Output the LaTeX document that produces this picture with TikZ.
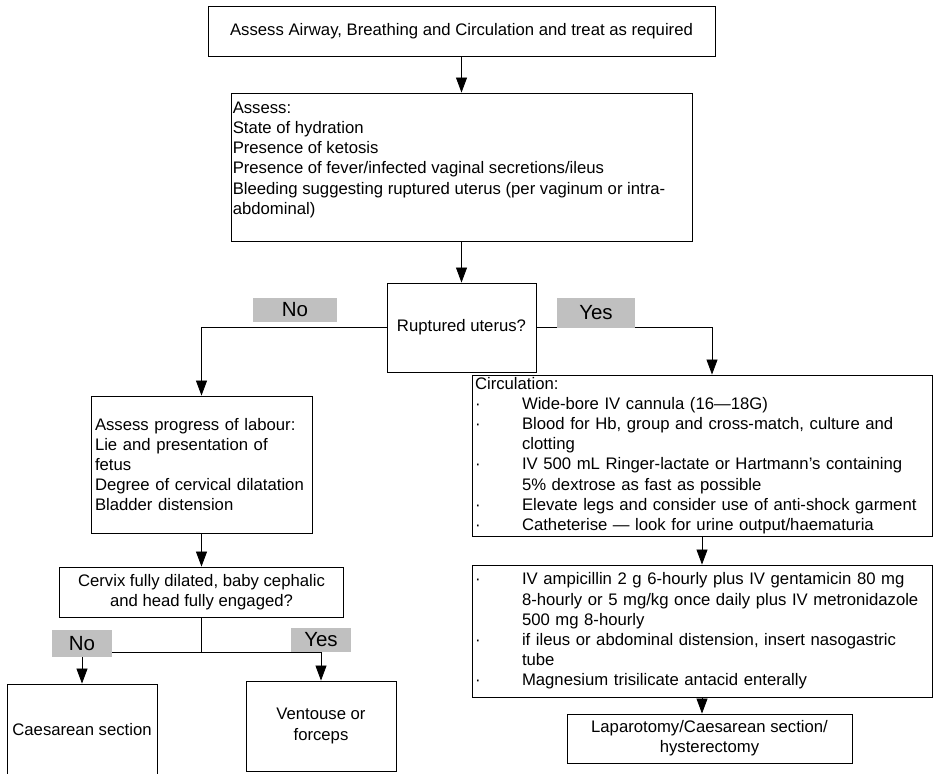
\documentclass[tikz,border=0pt]{standalone}
\usepackage{fontspec}
\setmainfont{Liberation Sans}
\usetikzlibrary{arrows.meta,positioning}

\definecolor{labelgray}{RGB}{192,192,192}
\newcommand{\bul}[1]{\makebox[47pt][l]{·}#1}
\newcommand{\bcont}[1]{\hspace*{47pt}#1}

\tikzset{
  box/.style={draw, line width=0.9pt, inner sep=0pt, font=\fontsize{16.7}{20.2}\selectfont},
  txt/.style={inner sep=0pt, align=left, font=\fontsize{16.7}{20.2}\selectfont},
  choice/.style={fill=labelgray, inner sep=0pt, font=\fontsize{20.5}{24}\selectfont},
  branch/.style={line width=0.8pt},
  flow/.style={branch, -{Triangle[width=11pt,length=15pt]}},
}

\begin{document}
\begin{tikzpicture}[x=1pt,y=-1pt]
  \clip (0,0) rectangle (936,773);
  % main column
  \node[box, minimum width=507pt, minimum height=50pt] (abc) at (461.5,31) {Assess Airway, Breathing and Circulation and treat as required};
  \node[box, minimum width=461pt, minimum height=148pt] (assessbox) at (461.5,167) {};
  \node[txt, anchor=north west] (assesstxt) at ([shift={(2pt,-9pt)}]assessbox.north west) {Assess:\\State of hydration\\Presence of ketosis\\Presence of fever/infected vaginal secretions/ileus\\Bleeding suggesting ruptured uterus (per vaginum or intra-\\abdominal)};
  \node[box, minimum width=149pt, minimum height=89pt] (rupt) at (461.5,327.5) {Ruptured uterus?};
  % left column
  \node[box, minimum width=221pt, minimum height=137pt, text width=213pt, inner xsep=4pt, align=left] (labour) at (201.5,464.5) {Assess progress of labour:\\Lie and presentation of\\fetus\\Degree of cervical dilatation\\Bladder distension};
  \node[box, minimum width=284pt, minimum height=50pt, align=center] (cervix) at (201.5,592) {Cervix fully dilated, baby cephalic\\and head fully engaged?};
  \node[box, minimum width=150pt, minimum height=92pt] (cs) at (82,730) {Caesarean section};
  \node[box, minimum width=150pt, minimum height=90pt, align=center] (vf) at (321,726) {Ventouse or\\forceps};
  \coordinate (lsplit) at (201.5,652);
  % right column
  \node[box, minimum width=460pt, minimum height=161pt, text width=454pt, inner xsep=3pt, align=left] (circ) at (702,455.5) {Circulation:\\\bul{Wide-bore IV cannula (16—18G)}\\\bul{Blood for Hb, group and cross-match, culture and}\\\bcont{clotting}\\\bul{IV 500 mL Ringer-lactate or Hartmann’s containing}\\\bcont{5\% dextrose as fast as possible}\\\bul{Elevate legs and consider use of anti-shock garment}\\\bul{Catheterise — look for urine output/haematuria}};
  \node[box, minimum width=460pt, minimum height=132pt, text width=454pt, inner xsep=3pt, align=left] (abx) at (702,631) {\bul{IV ampicillin 2 g 6-hourly plus IV gentamicin 80 mg}\\\bcont{8-hourly or 5 mg/kg once daily plus IV metronidazole}\\\bcont{500 mg 8-hourly}\\\bul{if ileus or abdominal distension, insert nasogastric}\\\bcont{tube}\\\bul{Magnesium trisilicate antacid enterally}};
  \node[box, minimum width=285pt, minimum height=49pt, align=center] (lap) at (709.5,738.5) {Laparotomy/Caesarean section/\\hysterectomy};
  \coordinate (ryes) at (712,0);
  %
  \draw[flow] (abc.south) -- (assessbox.north);
  \draw[flow] (assessbox.south) -- (rupt.north);
  \draw[flow] (rupt.west) -| (labour.north);
  \draw[flow] (rupt.east) -| (ryes |- circ.north);
  \draw[flow] (labour.south) -- (cervix.north);
  \draw[branch] (cervix.south) -- (lsplit);
  \draw[flow] (lsplit) -| (cs.north);
  \draw[flow] (lsplit) -| (vf.north);
  \draw[flow] (circ.south) -- (abx.north);
  \draw[flow] (abx.south) -- (abx.south |- lap.north);
  % answer labels
  \node[choice, minimum width=84pt, minimum height=24pt] (noup) at (295,310) {No};
  \node[choice, minimum width=78pt, minimum height=30pt] (yesup) at (596,313) {Yes};
  \node[choice, minimum width=60pt, minimum height=27pt] (nolow) at (82,643.5) {No};
  \node[choice, minimum width=60pt, minimum height=24pt] (yeslow) at (321,640) {Yes};
\end{tikzpicture}
\end{document}
